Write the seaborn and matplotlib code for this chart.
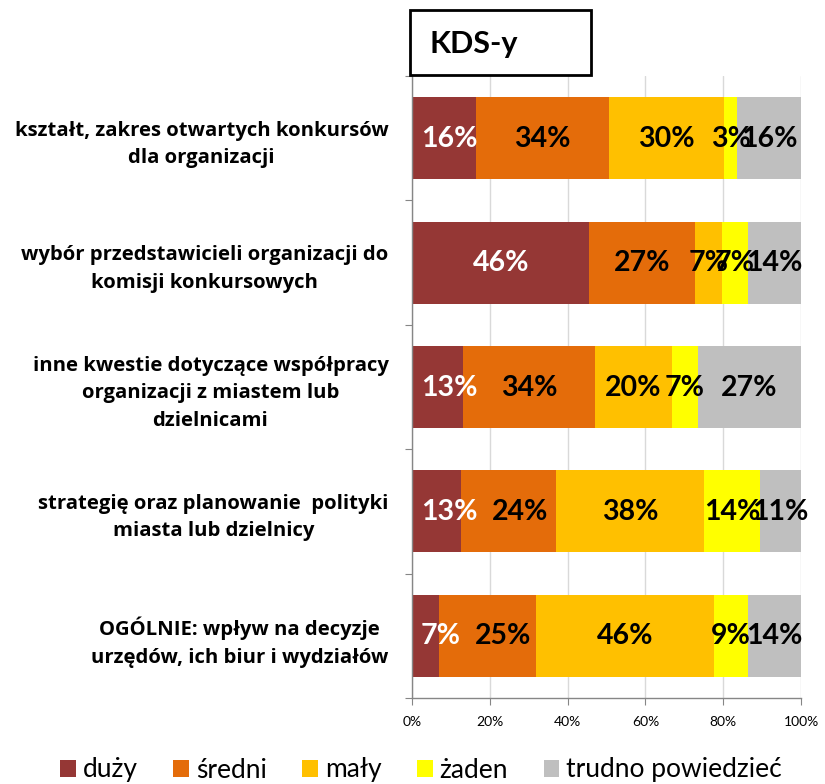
import matplotlib
matplotlib.use("Agg")
import matplotlib.pyplot as plt
from matplotlib.patches import Patch, Rectangle
import seaborn as sns
import pandas as pd
import numpy as np

categories = [
    "kształt, zakres otwartych konkursów\ndla organizacji",
    "wybór przedstawicieli organizacji do\nkomisji konkursowych",
    "inne kwestie dotyczące współpracy\norganizacji z miastem lub\ndzielnicami",
    "strategię oraz planowanie  polityki\nmiasta lub dzielnicy",
    "OGÓLNIE: wpływ na decyzje\nurzędów, ich biur i wydziałów",
]
series_names = ["duży", "średni", "mały", "żaden", "trudno powiedzieć"]
duzy = [16.4, 45.6, 13.1, 12.7, 6.9]
sredni = [34.3, 27.2, 34.0, 24.3, 25.0]
maly = [29.6, 6.8, 19.7, 38.1, 45.8]
zaden = [3.3, 6.8, 6.6, 14.3, 8.6]
trudno = [16.4, 13.6, 26.6, 10.6, 13.7]
colors = ["#953735", "#E46C0A", "#FFC000", "#FFFF00", "#BFBFBF"]
label_colors = ["white", "black", "black", "black", "black"]
xtick_labels = ["0%", "20%", "40%", "60%", "80%", "100%"]
title = "KDS-y"

sns.set_style("white")
plt.rcParams["font.family"] = ["Lato", "DejaVu Sans"]
plt.rcParams["text.color"] = "black"
plt.rcParams["xtick.labelcolor"] = "black"
plt.rcParams["ytick.labelcolor"] = "black"

W, H = 825, 784
fig = plt.figure(figsize=(W / 100, H / 100), dpi=100)
ax = fig.add_axes([412 / W, 1 - 698 / H, (801 - 412) / W, (698 - 76) / H])

series = [duzy, sredni, maly, zaden, trudno]
cum = np.zeros(len(categories))
cums = []
for s in series:
    cum = cum + np.array(s)
    cums.append(cum.copy())
for name, c, col in reversed(list(zip(series_names, cums, colors))):
    d = pd.DataFrame({"cat": categories, "val": c})
    sns.barplot(data=d, y="cat", x="val", orient="h", color=col,
                width=0.66, saturation=1, ax=ax, edgecolor="none", linewidth=0)

ax.set_xlim(0, 100)
ax.set_ylim(4.5, -0.5)

# data labels (kept inside the plot's left edge, Excel-like)
fig.canvas.draw()
renderer = fig.canvas.get_renderer()
px_per_unit = ax.get_window_extent().width / 100.0
margin_px = 9
gap_px = 14
for i in range(len(categories)):
    left = 0.0
    prev_right = None
    prev_shifted = False
    for s, lc in zip(series, label_colors):
        v = s[i]
        t = ax.text(left + v / 2, i + 0.005, f"{v:.0f}%", ha="center", va="center",
                    fontsize=20.5, fontweight="bold", color=lc, zorder=5)
        half = t.get_window_extent(renderer).width / 2 / px_per_unit
        cx = left + v / 2
        shifted = False
        if cx - half < margin_px / px_per_unit:
            cx = margin_px / px_per_unit + half
            shifted = True
        elif prev_shifted and prev_right is not None and cx - half < prev_right + gap_px / px_per_unit:
            cx = prev_right + gap_px / px_per_unit + half
            shifted = True
        t.set_x(cx)
        prev_right = cx + half
        prev_shifted = shifted
        left += v

ax.set_xticks([0, 20, 40, 60, 80, 100])
ax.set_xticklabels(xtick_labels, fontsize=10)
ax.xaxis.grid(True, color="#D9D9D9", linewidth=1)
ax.set_axisbelow(True)
ax.set_xlabel("")
ax.set_ylabel("")

# category boundary ticks (major), labels at centers (minor)
ax.set_yticks(np.arange(-0.5, len(categories), 1.0))
ax.set_yticklabels([])
ax.set_yticks(np.arange(len(categories)), minor=True)
ax.set_yticklabels(categories, minor=True, fontsize=14.6, fontweight="bold",
                   multialignment="center", family=["Open Sans", "DejaVu Sans"],
                   linespacing=1.5)
ax.tick_params(axis="y", which="minor", length=0, pad=17)
ax.tick_params(axis="y", which="major", length=5, color="#868686", direction="out", left=True)
ax.tick_params(axis="x", which="major", length=5, color="#868686", direction="out", bottom=True, pad=8)

for sp in ["top", "right"]:
    ax.spines[sp].set_visible(False)
for sp in ["left", "bottom"]:
    ax.spines[sp].set_color("#868686")
    ax.spines[sp].set_linewidth(1)

# title box
fig.patches.append(Rectangle((410 / W, 1 - 75 / H), (591 - 410) / W, (75 - 10) / H,
                             transform=fig.transFigure, facecolor="white",
                             edgecolor="black", linewidth=2, zorder=10))
fig.text(430 / W, 1 - 44 / H, title, fontsize=22, fontweight="bold",
         ha="left", va="center", zorder=11)

handles = [Patch(facecolor=c, edgecolor="none") for c in colors]
fig.legend(handles, series_names, loc="center", bbox_to_anchor=(421 / W, 1 - 770 / H),
           ncol=5, frameon=False, fontsize=19, handlelength=0.6, handleheight=0.6,
           handletextpad=0.25, columnspacing=1.35, borderpad=0, borderaxespad=0)

fig.savefig("out.png", dpi=100)
